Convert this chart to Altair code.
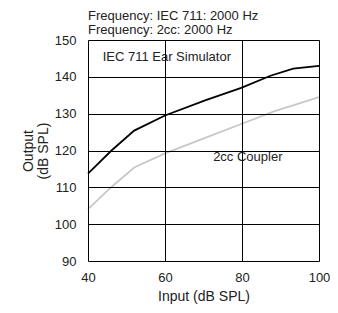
import altair as alt
import pandas as pd

input_db = [40, 46.1, 52, 60, 70.6, 79.8, 87.4, 93.3, 100]
iec711 = [113.7, 120.0, 125.4, 129.5, 133.7, 137.0, 140.3, 142.2, 143.0]
input_db_2cc = [40, 46.1, 52, 60, 70.6, 79.8, 88.3, 100]
coupler_2cc = [104.1, 110.1, 115.4, 119.2, 123.5, 127.2, 130.6, 134.5]

labels = ["IEC 711 Ear Simulator", "2cc Coupler"]
label_x = [43.8, 72.5]
label_y = [145.4, 118.1]
subtitles = ["Frequency: IEC 711: 2000 Hz", "Frequency: 2cc: 2000 Hz"]

FONT = "Liberation Sans"

df = pd.concat([
    pd.DataFrame({"input": input_db, "output": iec711, "series": "IEC"}),
    pd.DataFrame({"input": input_db_2cc, "output": coupler_2cc, "series": "2cc"}),
])
lab = pd.DataFrame({"input": label_x, "output": label_y, "label": labels})

xs = alt.Scale(domain=[40, 100], nice=False, zero=False)
ys = alt.Scale(domain=[90, 150], nice=False, zero=False)

x_axis = alt.Axis(values=[40, 60, 80, 100], title="Input (dB SPL)", grid=True,
                  gridColor="black", gridOpacity=1, gridWidth=1, ticks=False,
                  domain=False, labelPadding=10, titlePadding=5, labelFlush=False,
                  labelFontSize=13, titleFontSize=14, titleFontWeight="normal",
                  labelColor="#222", titleColor="#222", labelFont=FONT, titleFont=FONT,
                  zindex=1)
y_axis = alt.Axis(values=[90, 100, 110, 120, 130, 140, 150], title=["Output", "(dB SPL)"],
                  grid=True, gridColor="black", gridOpacity=1, gridWidth=1, ticks=False,
                  domain=False, labelPadding=12, titlePadding=4, labelFlush=False,
                  labelFontSize=13, titleFontSize=14, titleFontWeight="normal",
                  titleLineHeight=15,
                  labelColor="#222", titleColor="#222", labelFont=FONT, titleFont=FONT,
                  zindex=1)

X = alt.X("input:Q", scale=xs, axis=x_axis)
Y = alt.Y("output:Q", scale=ys, axis=y_axis)

lines = alt.Chart(df).mark_line(strokeWidth=1.8).encode(
    x=X, y=Y,
    color=alt.Color("series:N", scale=alt.Scale(domain=["IEC", "2cc"], range=["#000000", "#c8c8c8"]), legend=None),
    detail="series:N",
)

texts = alt.Chart(lab).mark_text(align="left", baseline="middle", fontSize=13, font=FONT, color="#222").encode(
    x=X, y=Y, text="label:N",
)

sub1 = alt.Chart(pd.DataFrame({"t": [subtitles[0]]})).mark_text(
    align="left", baseline="middle", fontSize=13, font=FONT, color="#222"
).encode(x=alt.value(0), y=alt.value(-24), text="t:N")
sub2 = alt.Chart(pd.DataFrame({"t": [subtitles[1]]})).mark_text(
    align="left", baseline="middle", fontSize=13, font=FONT, color="#222"
).encode(x=alt.value(0), y=alt.value(-10), text="t:N")

chart = alt.layer(lines, texts, sub1, sub2).properties(
    width=231, height=221,
    padding={"left": 80, "top": 32, "right": 11, "bottom": 44},
    autosize=alt.AutoSizeParams(type="none"),
).configure_view(stroke="black", strokeWidth=1.2).configure(background="white")

chart.save("out.html", embed_options={"renderer": "svg", "actions": False})
